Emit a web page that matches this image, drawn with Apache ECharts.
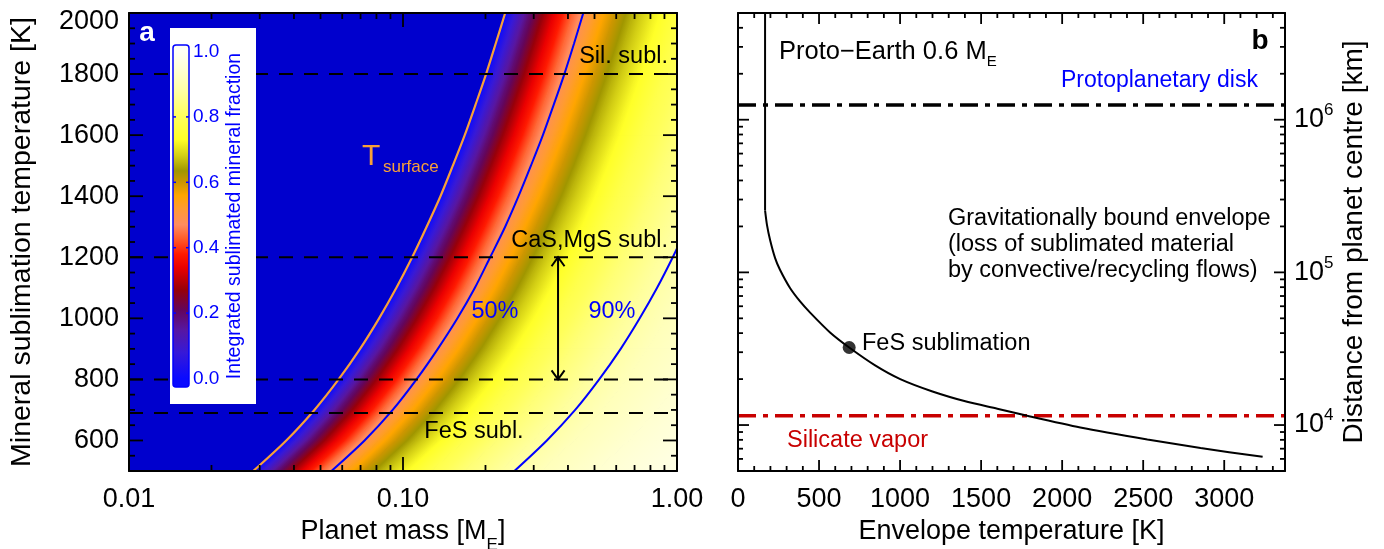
<!DOCTYPE html>
<html><head><meta charset="utf-8">
<script src="https://cdn.jsdelivr.net/npm/echarts@6/dist/echarts.min.js"></script>
<style>html,body{margin:0;padding:0;background:#fff}#c{width:1384px;height:549px}</style>
</head><body><div id="c"></div>
<script>
// ================= Panel a data =================
const sublimTemps  = [500,600,700,800,900,1000,1100,1200,1300,1400,1500,1600,1700,1800,1900,2000];
const surfaceMass  = [0.0284,0.0375,0.0475,0.0582,0.0697,0.0818,0.0946,0.108,0.122,0.137,0.152,0.168,0.184,0.201,0.218,0.236];
const mass50       = [0.0548,0.0724,0.0917,0.112,0.134,0.158,0.183,0.208,0.236,0.264,0.293,0.324,0.355,0.388,0.421,0.455];
const mass90Temps  = [500,600,700,800,900,1000,1100,1200,1300];
const mass90       = [0.255,0.335,0.425,0.52,0.623,0.731,0.846,0.965,1.09];
// fraction profile across a row, offset (dex in mass) right of the T_surface curve
const profileOffsetDex = [0,0.03,0.06,0.09,0.12,0.15,0.18,0.21,0.25,0.29,0.34,0.40,0.47,0.55,0.65,0.77,0.90,1.05,1.25,1.50,1.80,2.10];
const profileFraction  = [0,0.07,0.13,0.19,0.24,0.29,0.34,0.38,0.44,0.49,0.54,0.60,0.66,0.72,0.78,0.83,0.87,0.91,0.94,0.97,0.98,0.99];
const sublimLineTemps  = [1800,1200,800,690];
const arrowMass = 0.368, arrowFromT = 1200, arrowToT = 800;
const massTicks = [0.01,0.1,1];
const massTickLabels = ['0.01','0.10','1.00'];
const tempTicks = [600,800,1000,1200,1400,1600,1800,2000];
const colorbarTicks = [0,0.2,0.4,0.6,0.8,1.0];

// ================= Panel b data =================
const wallTemp = [167,167];
const wallDist = [5.0e6,2.55e5];
const envTemp = [167,179,198,229,259,321,383,445,568,686,846,1001,1200,1414,1600,1785,2112,2526,2854,3237];
const envDist = [2.55e5,2.04e5,1.63e5,1.24e5,1.04e5,7.9e4,6.45e4,5.45e4,4.04e4,3.22e4,2.46e4,2.0e4,1.66e4,1.42e4,1.28e4,1.15e4,9.65e3,8.05e3,7.07e3,6.19e3];
const fesPoint = [686, 3.22e4];
const diskDist = 1.25e6;
const silicateDist = 1.15e4;
const envTempTicks = [0,500,1000,1500,2000,2500,3000];
const envTempMax = 3375;
const distMin = 5e3, distMax = 5e6;
const distDecades = [1e4,1e5,1e6];

// ================= styling helpers =================
const FONT = '"Liberation Sans", Arial, Helvetica, sans-serif';
const L = Math.log10;
const cmapStops = [
 [0.00,[10,10,255]],[0.08,[55,25,215]],[0.15,[88,22,160]],[0.21,[100,5,90]],
 [0.27,[150,0,10]],[0.34,[235,0,0]],[0.38,[255,25,0]],[0.43,[255,95,45]],
 [0.47,[255,140,95]],[0.52,[255,155,50]],[0.56,[255,165,0]],[0.60,[205,150,0]],
 [0.635,[160,150,0]],[0.68,[210,205,20]],[0.73,[255,255,40]],[0.80,[255,255,90]],
 [0.88,[255,255,165]],[0.95,[255,255,215]],[1.00,[255,255,245]]
];
const rgb = c => 'rgb(' + c.map(Math.round).join(',') + ')';
function cmap(f){
  if (f<=cmapStops[0][0]) return rgb(cmapStops[0][1]);
  for (let k=1;k<cmapStops.length;k++){
    const a=cmapStops[k-1], b=cmapStops[k];
    if (f<=b[0]){ const t=(f-a[0])/(b[0]-a[0]); return rgb(a[1].map((v,q)=>v+(b[1][q]-v)*t)); }
  }
  return rgb(cmapStops[cmapStops.length-1][1]);
}

// tick positions
const massMajor = massTicks.map(L);
const massMinor = []; [0.01,0.1].forEach(d=>{for(let k=2;k<=9;k++) massMinor.push(L(k*d));});
const tMinor = []; for (let t=550;t<2000;t+=50) if (!tempTicks.includes(t)) tMinor.push(t);
const eMinor = []; for (let t=100;t<envTempMax;t+=100) if (t%500) eMinor.push(t);
const dMin = L(distMin), dMax = L(distMax);
const dMajor = distDecades.map(L);
const dMinor = []; [1e3,1e4,1e5,1e6].forEach(d=>{for(let k=2;k<=9;k++){const v=L(k*d); if(v>dMin+1e-6 && v<dMax-1e-6) dMinor.push(v);}});

function axis(o){
  const a = {
    type:'value', gridIndex:o.grid, position:o.pos, min:o.min, max:o.max, z:20,
    splitLine:{show:false},
    axisLine:{show:true, onZero:false, lineStyle:{color:'#000', width:2}},
    axisTick:{show:false},
    axisLabel:{show:false}
  };
  if (o.labels) a.axisLabel = Object.assign({show:true, customValues:o.ticks, margin:o.margin||12,
      fontSize:27, fontFamily:FONT, color:'#000'}, o.labels);
  if (o.name) Object.assign(a, {name:o.name, nameLocation:'middle', nameGap:o.nameGap,
      nameRotate:o.nameRotate, nameTextStyle:Object.assign({fontSize:27, fontFamily:FONT, color:'#000'}, o.nameStyle||{})});
  return a;
}

const subRich = {m:{fontSize:27, fontFamily:FONT, color:'#000', lineHeight:44}, s:{fontSize:17, fontFamily:FONT, color:'#000', verticalAlign:'bottom'}};

const xAxis = [
  axis({grid:0,pos:'bottom',min:-2,max:0,ticks:massMajor,margin:15,
        labels:{formatter:v=>massTickLabels[Math.round(v)+2]},
        name:'{m|Planet mass [M}{s|E}{m|]}', nameGap:37, nameStyle:{rich:subRich}}),
  axis({grid:0,pos:'top',min:-2,max:0}),
  axis({grid:1,pos:'bottom',min:0,max:envTempMax,ticks:envTempTicks,margin:15,
        labels:{formatter:v=>String(v)}, name:'Envelope temperature [K]', nameGap:45}),
  axis({grid:1,pos:'top',min:0,max:envTempMax})
];
const yAxis = [
  axis({grid:0,pos:'left',min:500,max:2000,ticks:tempTicks,margin:10,
        labels:{formatter:v=>v===2000?'{d|2000}':String(v), rich:{d:{fontSize:27,fontFamily:FONT,color:'#000',padding:[17,0,0,0]}}},
        name:'Mineral sublimation temperature [K]', nameGap:92, nameRotate:90, nameStyle:{fontSize:28.5}}),
  axis({grid:0,pos:'right',min:500,max:2000}),
  axis({grid:1,pos:'right',min:dMin,max:dMax,ticks:dMajor,margin:9,
        labels:{formatter:v=>'{b|10}{s|'+Math.round(v)+'}', rich:{b:{fontSize:27,fontFamily:FONT,color:'#000',lineHeight:36},s:{fontSize:17,fontFamily:FONT,color:'#000',verticalAlign:'top'}}},
        name:'Distance from planet centre [km]', nameGap:55, nameRotate:90, nameStyle:{fontSize:28}}),
  axis({grid:1,pos:'left',min:dMin,max:dMax})
];

const grid = [
  {left:129, top:13, width:548, height:458, outerBoundsMode:'none', containLabel:false, show:true, backgroundColor:'#0000cd', borderWidth:0},
  {left:738, top:13, width:547, height:458, outerBoundsMode:'none', containLabel:false}
];

// heat-field cells: between consecutive temperature rows and profile offsets
const cells = [];
for (let i=0;i<sublimTemps.length-1;i++)
  for (let j=0;j<profileOffsetDex.length-1;j++)
    cells.push([L(surfaceMass[i])+profileOffsetDex[j], sublimTemps[i], i, j]);

function renderCell(params, api){
  const i=api.value(2), j=api.value(3);
  const lm0=L(surfaceMass[i]), lm1=L(surfaceMass[i+1]);
  const t0=sublimTemps[i], t1=sublimTemps[i+1];
  const o0=profileOffsetDex[j], o1=profileOffsetDex[j+1];
  const A=api.coord([lm0+o0,t0]), B=api.coord([lm0+o1,t0]), C=api.coord([lm1+o1,t1]), D=api.coord([lm1+o0,t1]);
  let nx=D[1]-A[1], ny=-(D[0]-A[0]); const len=Math.hypot(nx,ny); nx/=len; ny/=len;
  let proj=(B[0]-A[0])*nx+(B[1]-A[1])*ny; if (proj<0){nx=-nx;ny=-ny;proj=-proj;}
  const E=[A[0]+nx*proj, A[1]+ny*proj];
  const f0=profileFraction[j], f1=profileFraction[j+1];
  const stops=[{offset:0,color:cmap(f0)}];
  cmapStops.forEach(s=>{ if (s[0]>f0 && s[0]<f1) stops.push({offset:(s[0]-f0)/(f1-f0), color:rgb(s[1])}); });
  stops.push({offset:1,color:cmap(f1)});
  const grad = new echarts.graphic.LinearGradient(A[0],A[1],E[0],E[1],stops,true);
  return {type:'polygon', shape:{points:[A,B,C,D]}, style:{fill:grad, stroke:grad, lineWidth:1}};
}

function renderArrow(params, api){
  const top=api.coord([api.value(0), api.value(1)]), bot=api.coord([api.value(0), api.value(2)]);
  const x=top[0], hw=6.5, hh=9, st={stroke:'#000', lineWidth:2, fill:null};
  return {type:'group', children:[
    {type:'line', shape:{x1:x,y1:top[1],x2:x,y2:bot[1]}, style:st},
    {type:'polyline', shape:{points:[[x-hw,top[1]+hh],[x,top[1]],[x+hw,top[1]+hh]]}, style:st},
    {type:'polyline', shape:{points:[[x-hw,bot[1]-hh],[x,bot[1]],[x+hw,bot[1]-hh]]}, style:st}
  ]};
}

const series = [
  {type:'custom', xAxisIndex:0, yAxisIndex:0, clip:true, z:1, renderItem:renderCell, data:cells, encode:{x:0,y:1}, silent:true},
  {type:'line', xAxisIndex:0, yAxisIndex:0, z:3, symbol:'none', smooth:0.3, lineStyle:{color:'#f7a038', width:2.2},
   data:sublimTemps.map((t,i)=>[L(surfaceMass[i]),t])},
  {type:'line', xAxisIndex:0, yAxisIndex:0, z:3, symbol:'none', smooth:0.3, lineStyle:{color:'#0000ff', width:2},
   data:sublimTemps.map((t,i)=>[L(mass50[i]),t])},
  {type:'line', xAxisIndex:0, yAxisIndex:0, z:3, symbol:'none', smooth:0.3, lineStyle:{color:'#0000ff', width:2},
   data:mass90Temps.map((t,i)=>[L(mass90[i]),t])},
  ...sublimLineTemps.map(T=>({type:'line', xAxisIndex:0, yAxisIndex:0, z:4, symbol:'none',
     lineStyle:{color:'#000', width:2, type:[14,11]}, data:[[-2,T],[0,T]]})),
  {type:'custom', xAxisIndex:0, yAxisIndex:0, z:5, renderItem:renderArrow, data:[[L(arrowMass),arrowFromT,arrowToT]], encode:{x:0,y:1}},
  // panel b
  {type:'line', xAxisIndex:2, yAxisIndex:2, z:3, symbol:'none', lineStyle:{color:'#000', width:2},
   data:wallTemp.map((t,i)=>[t,L(wallDist[i])])},
  {type:'line', xAxisIndex:2, yAxisIndex:2, z:3, symbol:'none', smooth:0.25, lineStyle:{color:'#000', width:2},
   data:envTemp.map((t,i)=>[t,L(envDist[i])])},
  {type:'line', xAxisIndex:2, yAxisIndex:2, z:2, symbol:'none', lineStyle:{color:'#000', width:3.5, type:[18,7,5,7]},
   data:[[0,L(diskDist)],[envTempMax,L(diskDist)]]},
  {type:'line', xAxisIndex:2, yAxisIndex:2, z:2, symbol:'none', lineStyle:{color:'#c80000', width:3.5, type:[18,7,5,7]},
   data:[[0,L(silicateDist)],[envTempMax,L(silicateDist)]]},
  {type:'scatter', xAxisIndex:2, yAxisIndex:2, z:4, symbol:'circle', symbolSize:13, itemStyle:{color:'#000'},
   data:[[fesPoint[0], L(fesPoint[1])]]}
];

// ================= annotations & colour bar =================
const T = (x,y,text,o) => Object.assign({type:'text', x, y, z:60, style:Object.assign({text, font:'23.5px '+FONT, fill:'#000', align:'left', verticalAlign:'middle'}, o||{})});
const graphic = [];
const cbTop=51.5, cbBot=378.5;
graphic.push({type:'rect', z:50, shape:{x:170,y:28,width:86,height:376}, style:{fill:'#fff'}});
graphic.push({type:'rect', z:51, shape:{x:173,y:45,width:16,height:342,r:3},
  style:{fill:new echarts.graphic.LinearGradient(0,cbBot,0,cbTop, cmapStops.map(s=>({offset:s[0],color:rgb(s[1])})), true), stroke:'#0000ff', lineWidth:1.5}});
colorbarTicks.forEach(v=>{
  const y=cbBot-(cbBot-cbTop)*v;
  graphic.push(T(193,y,v.toFixed(1),{font:'19px '+FONT, fill:'#0000ff'}));
  if (v>0 && v<1){
    graphic.push({type:'line', z:52, shape:{x1:173,y1:y,x2:176,y2:y}, style:{stroke:'#0000ff', lineWidth:1.5}});
    graphic.push({type:'line', z:52, shape:{x1:186,y1:y,x2:189,y2:y}, style:{stroke:'#0000ff', lineWidth:1.5}});
  }
});
graphic.push({type:'text', z:60, x:234.5, y:216, rotation:Math.PI/2,
  style:{text:'Integrated sublimated mineral fraction', font:'19.5px '+FONT, fill:'#0000ff', align:'center', verticalAlign:'middle'}});
graphic.push(T(147,33,'a',{font:'bold 28px '+FONT, fill:'#fff', align:'center'}));
graphic.push(T(362,156.5,'T',{font:'30px '+FONT, fill:'#f7a038'}));
graphic.push(T(383,167.5,'surface',{font:'17px '+FONT, fill:'#f7a038'}));
graphic.push(T(668,56.5,'Sil. subl.',{align:'right'}));
graphic.push(T(668,240.5,'CaS,MgS subl.',{align:'right'}));
graphic.push(T(474,431.5,'FeS subl.',{align:'center'}));
graphic.push(T(495,311.5,'50%',{align:'center', fill:'#0000ff'}));
graphic.push(T(612,311.5,'90%',{align:'center', fill:'#0000ff'}));
graphic.push({type:'text', x:779, y:51.5, z:60, style:{text:'{a|Proto\u2212Earth 0.6 M}{s|E}', align:'left', verticalAlign:'middle',
  rich:{a:{font:'25.5px '+FONT, fill:'#000', lineHeight:36}, s:{font:'15px '+FONT, fill:'#000', verticalAlign:'bottom'}}}});
graphic.push(T(1260,41,'b',{font:'bold 28px '+FONT, align:'center'}));
graphic.push(T(1061,80.5,'Protoplanetary disk',{fill:'#0000ff', font:'23px '+FONT}));
graphic.push(T(948,219,'Gravitationally bound envelope'));
graphic.push(T(948,245,'(loss of sublimated material'));
graphic.push(T(948,271,'by convective/recycling flows)'));
graphic.push(T(862,344,'FeS sublimation'));
graphic.push(T(787,440.5,'Silicate vapor',{fill:'#c80000'}));

const chart = echarts.init(document.getElementById('c'), null, {renderer:'canvas'});
chart.setOption({animation:false, backgroundColor:'#fff', grid, xAxis, yAxis, series});

// inward tick marks on all four sides, positioned through each panel's axes
function addTicks(xi, yi, ext, xMaj, xMin, yMaj, yMin, lenMaj, lenMin){
  const finder = {xAxisIndex:xi, yAxisIndex:yi};
  const st = {stroke:'#000', lineWidth:1.8};
  const xt = xMaj.map(v=>[v,lenMaj]).concat(xMin.map(v=>[v,lenMin]));
  const yt = yMaj.map(v=>[v,lenMaj]).concat(yMin.map(v=>[v,lenMin]));
  xt.forEach(([v,len])=>{
    const b = chart.convertToPixel(finder, [v, ext[2]]), t = chart.convertToPixel(finder, [v, ext[3]]);
    graphic.push({type:'line', z:40, silent:true, shape:{x1:b[0],y1:b[1],x2:b[0],y2:b[1]-len}, style:st});
    graphic.push({type:'line', z:40, silent:true, shape:{x1:t[0],y1:t[1],x2:t[0],y2:t[1]+len}, style:st});
  });
  yt.forEach(([v,len])=>{
    const l = chart.convertToPixel(finder, [ext[0], v]), r = chart.convertToPixel(finder, [ext[1], v]);
    graphic.push({type:'line', z:40, silent:true, shape:{x1:l[0],y1:l[1],x2:l[0]+len,y2:l[1]}, style:st});
    graphic.push({type:'line', z:40, silent:true, shape:{x1:r[0],y1:r[1],x2:r[0]-len,y2:r[1]}, style:st});
  });
}
addTicks(0,0,[-2,0,500,2000],massMajor,massMinor,tempTicks,tMinor,14,6);
addTicks(2,2,[0,envTempMax,dMin,dMax],envTempTicks,eMinor,dMajor,dMinor,11,5);
chart.setOption({graphic});
</script></body></html>
